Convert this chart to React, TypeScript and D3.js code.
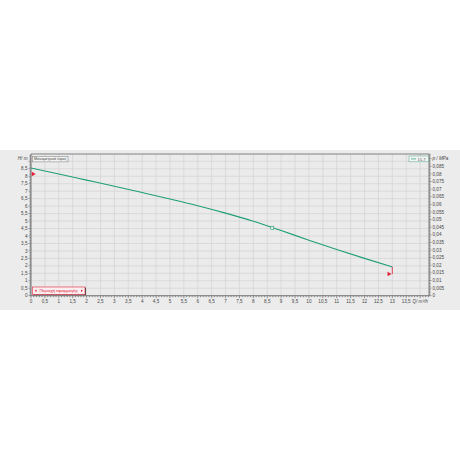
import React from "react";
import * as d3 from "d3";

const flowQ = [0, 1, 2, 3, 4, 5, 6, 7, 8, 9, 10, 11, 12, 13];
const headH = [8.55, 8.15, 7.74, 7.33, 6.91, 6.48, 6.03, 5.53, 4.98, 4.36, 3.72, 3.1, 2.5, 1.93];
const dutyPoint = { q: 8.68, h: 4.55 };
const limitMarkers = [
  { q: 0.1, h: 8.15 },
  { q: 12.9, h: 1.45 },
];
const xTickLabels = [0, 0.5, 1, 1.5, 2, 2.5, 3, 3.5, 4, 4.5, 5, 5.5, 6, 6.5, 7, 7.5, 8, 8.5, 9, 9.5, 10, 10.5, 11, 11.5, 12, 12.5, 13, 13.5];
const yTickLabels = [0, 0.5, 1, 1.5, 2, 2.5, 3, 3.5, 4, 4.5, 5, 5.5, 6, 6.5, 7, 7.5, 8, 8.5];
const pTickLabels = [0, 0.005, 0.01, 0.015, 0.02, 0.025, 0.03, 0.035, 0.04, 0.045, 0.05, 0.055, 0.06, 0.065, 0.07, 0.075, 0.08, 0.085];
const seriesName = "15-7";
const headLabel = "H/ m";
const pressLabel = "p / MPa";
const flowLabel = "Q/ m³/h";
const topBoxText = "Μανομετρικό ύψος";
const rangeText = "Περιοχή εφαρμογής";

const fmt = (v: number) => String(v).replace(".", ",");

export default function App() {
  const left = 31, right = 429, top = 154, bottom = 295.7;
  const x = d3.scaleLinear().domain([0, 14.32]).range([left, right]);
  const y = d3.scaleLinear().domain([0, 9.49]).range([bottom, top]);
  const p = d3.scaleLinear().domain([0, 9.49 * 0.00981]).range([bottom, top]);

  const line = d3.line<number>().x((_, i) => x(flowQ[i])).y((d) => y(d)).curve(d3.curveMonotoneX);

  const gridX = d3.range(0, 14.3, 0.5);
  const gridY = d3.range(0, 9.5, 0.5);
  const minorX = d3.range(0, 14.31, 0.1);
  const minorY = d3.range(0, 9.49, 0.1);
  const minorP = d3.range(0, 0.0931, 0.001);

  const fs = 4.6;
  const tc = "#444";

  return (
    <svg width={460} height={460} style={{ position: "absolute", left: 0, top: 0 }} fontFamily="Liberation Sans, Arial, sans-serif">
      <rect x={0} y={0} width={460} height={460} fill="#fff" />
      <rect x={0} y={150} width={460} height={160} fill="#ececec" />
      <rect x={left} y={top} width={right - left} height={bottom - top} fill="#ebebeb" />
      {gridX.map((v) => (
        <line key={"gx" + v} x1={x(v)} x2={x(v)} y1={top} y2={bottom} stroke="#d2d2d2" strokeWidth={0.7} />
      ))}
      {gridY.map((v) => (
        <line key={"gy" + v} x1={left} x2={right} y1={y(v)} y2={y(v)} stroke="#d2d2d2" strokeWidth={0.7} />
      ))}
      <line x1={left} x2={right} y1={top} y2={top} stroke="#666" strokeWidth={0.8} />
      <line x1={left} x2={right} y1={bottom} y2={bottom} stroke="#666" strokeWidth={0.8} />
      <line x1={left} x2={left} y1={top} y2={bottom} stroke="#666" strokeWidth={0.8} />
      <line x1={right} x2={right} y1={top} y2={bottom} stroke="#666" strokeWidth={0.8} />

      {minorX.map((v, i) => (
        <line key={"mx" + i} x1={x(v)} x2={x(v)} y1={bottom} y2={bottom + (i % 5 === 0 ? 2.5 : 1.5)} stroke="#555" strokeWidth={0.6} />
      ))}
      {minorY.map((v, i) => (
        <line key={"my" + i} x1={left} x2={left - (i % 5 === 0 ? 2.5 : 1.5)} y1={y(v)} y2={y(v)} stroke="#555" strokeWidth={0.6} />
      ))}
      {minorP.map((v, i) => (
        <line key={"mp" + i} x1={right} x2={right + (i % 5 === 0 ? 2.5 : 1.5)} y1={p(v)} y2={p(v)} stroke="#555" strokeWidth={0.6} />
      ))}

      {xTickLabels.map((v) => (
        <text key={"xl" + v} x={x(v)} y={bottom + 7.5} fontSize={fs} fill={tc} textAnchor="middle">{fmt(v)}</text>
      ))}
      <text x={x(14)} y={bottom + 7.5} fontSize={fs} fill={tc} textAnchor="middle" fontStyle="italic">{flowLabel}</text>
      {yTickLabels.map((v) => (
        <text key={"yl" + v} x={left - 3.5} y={y(v) + 1.6} fontSize={fs} fill={tc} textAnchor="end">{fmt(v)}</text>
      ))}
      <text x={left - 3.5} y={y(9.2) + 1.6} fontSize={fs} fill={tc} textAnchor="end" fontStyle="italic">{headLabel}</text>
      {pTickLabels.map((v) => (
        <text key={"pl" + v} x={right + 3.5} y={p(v) + 1.6} fontSize={fs} fill={tc} textAnchor="start">{fmt(v)}</text>
      ))}
      <text x={right + 3.5} y={p(0.09) + 1.6} fontSize={fs} fill={tc} textAnchor="start" fontStyle="italic">{pressLabel}</text>

      <path d={line(headH) || ""} fill="none" stroke="#1f9e78" strokeWidth={1.1} />
      <rect x={x(dutyPoint.q) - 1.5} y={y(dutyPoint.h) - 1.5} width={3} height={3} fill="#ebebeb" stroke="#1f9e78" strokeWidth={0.6} />

      <line x1={x(flowQ[flowQ.length - 1])} x2={x(flowQ[flowQ.length - 1])} y1={y(headH[headH.length - 1])} y2={y(limitMarkers[1].h)} stroke="#e0223a" strokeWidth={0.8} />
      {limitMarkers.map((m, i) => {
        const cx = x(m.q), cy = y(m.h);
        return <path key={"lm" + i} d={`M${cx - 2},${cy - 2.2}L${cx + 2},${cy}L${cx - 2},${cy + 2.2}Z`} fill="#e0223a" />;
      })}

      <rect x={32.5} y={156.3} width={35.5} height={5.6} fill="#f4f4f4" stroke="#777" strokeWidth={0.5} />
      <text x={34} y={160.4} fontSize={3.9} fill="#444">{topBoxText}</text>

      <rect x={409} y={156} width={19.3} height={5.8} fill="#f4f4f4" stroke="#6ab39a" strokeWidth={0.6} />
      <line x1={411} x2={416} y1={158.9} y2={158.9} stroke="#1f9e78" strokeWidth={0.7} />
      <text x={417.5} y={160.5} fontSize={4} fill="#555">{seriesName}</text>

      <rect x={33} y={287.6} width={53} height={7.6} fill="#4a4a4a" />
      <rect x={32.5} y={287} width={52.5} height={7.6} fill="#fbeef0" stroke="#e0223a" strokeWidth={0.6} />
      <path d="M36.5,289.6L34.6,290.8L36.5,292Z" fill="#e0223a" />
      <path d="M81,289.6L82.9,290.8L81,292Z" fill="#e0223a" />
      <text x={58.7} y={292.3} fontSize={4.4} fill="#e0223a" textAnchor="middle">{rangeText}</text>
    </svg>
  );
}
